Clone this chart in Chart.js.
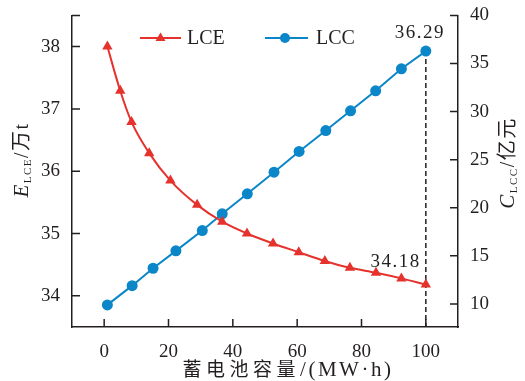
<!DOCTYPE html>
<html>
<head>
<meta charset="utf-8">
<script src="https://cdn.jsdelivr.net/npm/chart.js@4.4.1/dist/chart.umd.min.js"></script>
<style>
html, body { margin: 0; padding: 0; background: #fff; }
</style>
</head>
<body>
<canvas id="lifeCycleChart" width="525" height="381"></canvas>
<script>
// battery capacity (MW·h) and results for each series
const lceCapacity = [1, 5, 8.5, 14, 20.6, 28.9, 36.7, 44.4, 52.5, 60.5, 68.6, 76.4, 84.5, 92.4, 100];
const lceValues = [38.0, 37.29, 36.79, 36.29, 35.85, 35.46, 35.19, 35.0, 34.84, 34.70, 34.56, 34.45, 34.37, 34.28, 34.18];
const lccCapacity = [1, 8.7, 15.2, 22.3, 30.5, 36.7, 44.5, 52.8, 60.6, 68.9, 76.6, 84.4, 92.4, 100];
const lccValues = [9.90, 11.90, 13.71, 15.52, 17.63, 19.37, 21.45, 23.70, 25.85, 28.03, 30.08, 32.16, 34.45, 36.29];

const xTicks = [0, 20, 40, 60, 80, 100];
const lceTicks = [34, 35, 36, 37, 38];
const lccTicks = [10, 15, 20, 25, 30, 35, 40];

const RED = '#e5322d';
const BLUE = '#0b87c9';
const INK = '#231f20';
const SERIF = '"Liberation Serif", "Times New Roman", "Noto Sans CJK SC", serif';

const toPoints = (xs, ys) => xs.map((x, i) => ({ x: x, y: ys[i] }));

// draws a run of text pieces (own font / offset / spacing each) centred on cx, cy
function drawRich(ctx, parts, cx, cy, angle) {
  ctx.save();
  ctx.translate(cx, cy);
  ctx.rotate(angle);
  ctx.textBaseline = 'alphabetic';
  ctx.textAlign = 'left';
  let total = 0;
  parts.forEach(p => {
    ctx.font = p.font;
    ctx.letterSpacing = (p.sp || 0) + 'px';
    p.w = ctx.measureText(p.text).width;
    total += p.w;
  });
  let x = -total / 2;
  parts.forEach(p => {
    ctx.font = p.font;
    ctx.letterSpacing = (p.sp || 0) + 'px';
    ctx.fillStyle = INK;
    ctx.fillText(p.text, x, p.dy);
    x += p.w;
  });
  ctx.restore();
}

const decorations = {
  id: 'decorations',
  beforeDatasetsDraw(chart) {
    const { ctx, scales } = chart;
    const x = scales.x.getPixelForValue(100);
    const yTop = scales.y1.getPixelForValue(lccValues[lccValues.length - 1]);
    ctx.save();
    ctx.strokeStyle = INK;
    ctx.lineWidth = 1.5;
    ctx.setLineDash([5, 3]);
    ctx.beginPath();
    ctx.moveTo(x, yTop);
    ctx.lineTo(x, chart.chartArea.bottom);
    ctx.stroke();
    ctx.restore();
  },
  afterDraw(chart) {
    const { ctx, scales, chartArea } = chart;
    const tick = 8;
    ctx.save();
    ctx.strokeStyle = INK;
    ctx.lineWidth = 1.5;
    ctx.beginPath();
    // inward tick marks
    lceTicks.forEach(v => {
      const y = scales.y.getPixelForValue(v);
      ctx.moveTo(chartArea.left, y);
      ctx.lineTo(chartArea.left + tick, y);
    });
    ctx.moveTo(chartArea.left, chartArea.top);
    ctx.lineTo(chartArea.left + tick, chartArea.top);
    lccTicks.forEach(v => {
      const y = scales.y1.getPixelForValue(v);
      ctx.moveTo(chartArea.right, y);
      ctx.lineTo(chartArea.right - tick, y);
    });
    xTicks.forEach(v => {
      const xp = scales.x.getPixelForValue(v);
      ctx.moveTo(xp, chartArea.bottom);
      ctx.lineTo(xp, chartArea.bottom - tick);
    });
    ctx.stroke();

    // end-point value labels
    ctx.fillStyle = INK;
    ctx.font = '19px ' + SERIF;
    ctx.letterSpacing = '1.5px';
    ctx.textBaseline = 'alphabetic';
    const xEnd = scales.x.getPixelForValue(100);
    const lccLast = lccValues[lccValues.length - 1];
    const lceLast = lceValues[lceValues.length - 1];
    ctx.textAlign = 'center';
    ctx.fillText(lccLast.toFixed(2), xEnd - 6, scales.y1.getPixelForValue(lccLast) - 13);
    ctx.textAlign = 'right';
    ctx.fillText(lceLast.toFixed(2), xEnd - 5, scales.y.getPixelForValue(lceLast) - 18);
    ctx.letterSpacing = '0px';

    // legend
    const ly = 38;
    ctx.lineWidth = 2;
    ctx.strokeStyle = RED;
    ctx.beginPath();
    ctx.moveTo(140, ly);
    ctx.lineTo(181, ly);
    ctx.stroke();
    ctx.fillStyle = RED;
    ctx.beginPath();
    ctx.moveTo(160.5, ly - 5.5);
    ctx.lineTo(165.5, ly + 3);
    ctx.lineTo(155.5, ly + 3);
    ctx.closePath();
    ctx.fill();
    ctx.strokeStyle = BLUE;
    ctx.beginPath();
    ctx.moveTo(265, ly);
    ctx.lineTo(308, ly);
    ctx.stroke();
    ctx.fillStyle = BLUE;
    ctx.beginPath();
    ctx.arc(285, ly, 5, 0, Math.PI * 2);
    ctx.fill();
    ctx.fillStyle = INK;
    ctx.font = '20px ' + SERIF;
    ctx.textAlign = 'left';
    ctx.textBaseline = 'middle';
    ctx.fillText('LCE', 187, ly + 1);
    ctx.fillText('LCC', 316, ly + 1);

    // axis titles
    const big = 'italic 21px ' + SERIF;
    const sub = '11px ' + SERIF;
    const txt = '20px ' + SERIF;
    drawRich(ctx, [
      { text: 'E', font: big, dy: 7, sp: 1.5 },
      { text: 'LCE', font: sub, dy: 10, sp: 1.5 },
      { text: '/万t', font: txt, dy: 7, sp: 1.5 }
    ], 21, 160, -Math.PI / 2);
    drawRich(ctx, [
      { text: 'C', font: big, dy: 7, sp: 1.5 },
      { text: 'LCC', font: sub, dy: 10, sp: 1.5 },
      { text: '/亿元', font: txt, dy: 7, sp: 1.5 }
    ], 507, 163, -Math.PI / 2);
    drawRich(ctx, [
      { text: '蓄电池容量', font: '19px ' + SERIF, dy: 0, sp: 4.5 },
      { text: '/(MW·h)', font: '21px ' + SERIF, dy: 0, sp: 2.5 }
    ], 288, 376, 0);
    ctx.restore();
  }
};

const tickFont = { family: SERIF, size: 19 };
const axisBorder = { display: true, color: INK, width: 1.5 };

new Chart(document.getElementById('lifeCycleChart').getContext('2d'), {
  type: 'line',
  data: {
    datasets: [{
      label: 'LCE',
      data: toPoints(lceCapacity, lceValues),
      yAxisID: 'y',
      borderColor: RED,
      backgroundColor: RED,
      borderWidth: 2,
      pointStyle: 'triangle',
      pointRadius: 6,
      pointBorderWidth: 0,
      cubicInterpolationMode: 'monotone'
    }, {
      label: 'LCC',
      data: toPoints(lccCapacity, lccValues),
      yAxisID: 'y1',
      borderColor: BLUE,
      backgroundColor: BLUE,
      borderWidth: 2,
      pointStyle: 'circle',
      pointRadius: 5.5,
      pointBorderWidth: 0
    }]
  },
  options: {
    responsive: false,
    animation: false,
    devicePixelRatio: 1,
    layout: { padding: { top: 15, left: 0, right: 0, bottom: 0 } },
    plugins: {
      legend: { display: false },
      tooltip: { enabled: false }
    },
    scales: {
      x: {
        type: 'linear',
        min: -10,
        max: 110,
        afterBuildTicks: s => { s.ticks = xTicks.map(v => ({ value: v })); },
        afterFit: s => { s.height = 54; },
        grid: { display: false },
        border: axisBorder,
        ticks: { font: tickFont, color: INK, padding: 6, maxRotation: 0 }
      },
      y: {
        position: 'left',
        min: 33.5,
        max: 38.5,
        afterBuildTicks: s => { s.ticks = lceTicks.map(v => ({ value: v })); },
        afterFit: s => { s.width = 72; },
        grid: { display: false },
        border: axisBorder,
        ticks: { font: tickFont, color: INK, padding: 4 }
      },
      y1: {
        position: 'right',
        min: 7.6,
        max: 40,
        afterBuildTicks: s => { s.ticks = lccTicks.map(v => ({ value: v })); },
        afterFit: s => { s.width = 67; },
        grid: { display: false },
        border: axisBorder,
        ticks: { font: tickFont, color: INK, padding: 4 }
      }
    }
  },
  plugins: [decorations]
});
</script>
</body>
</html>
